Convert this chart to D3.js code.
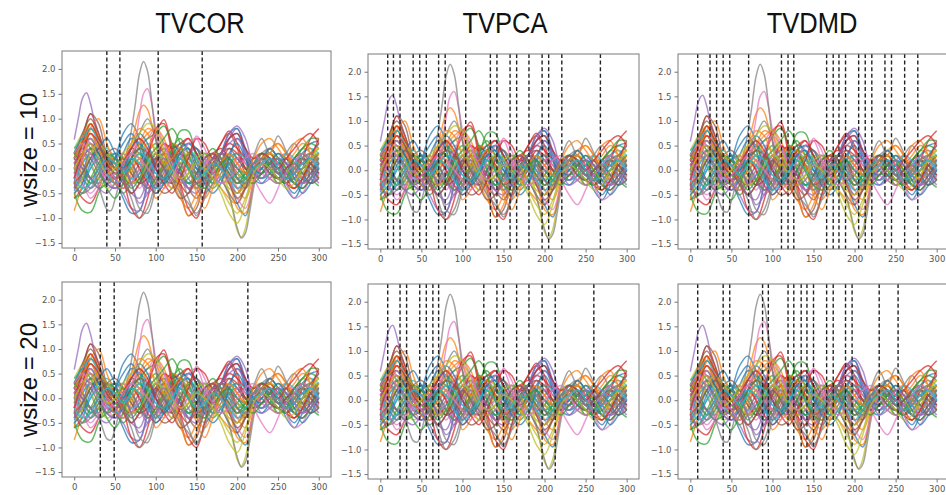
<!DOCTYPE html>
<html><head><meta charset="utf-8">
<script src="https://cdn.jsdelivr.net/npm/d3@7"></script>
<style>body{margin:0;background:#fff}svg{display:block}</style>
</head><body>
<svg id="chart" width="946" height="495"></svg>
<script>
// Sample times: a coarse grid for most regions, a fine grid for the sharper ones
const timePoints = [0,10,20,30,40,50,60,70,80,90,100,110,120,130,140,150,160,170,180,190,200,210,220,230,240,250,260,270,280,290,300];
const fineTimePoints = [0,5,10,15,20,25,30,35,40,45,50,55,60,65,70,75,80,85,90,95,100,105,110,115,120,125,130,135,140,145,
  150,155,160,165,170,175,180,185,190,195,200,205,210,215,220,225,230,235,240,245,250,255,260,265,270,275,280,285,290,295,300];

// Regional signals
const s00 = [-0.45,-0.1,0.3,0.2,-0.1,0.2,0.7,0.9,0.6,0.1,-0.3,0.1,0.45,0.35,0.1,-0.2,0.1,0.3,0.1,-0.2,-0.1,0.2,0.1,0.3,0.2,0.0,-0.2,0.1,0.3,0.5,0.55];
const s01 = [0.1,0.25,0.4,0.65,0.9,0.8,0.6,0.35,0.1,-0.15,
  -0.3,-0.25,-0.1,0.15,0.5,0.85,1.15,1.27,1.18,0.9,
  0.6,0.25,-0.1,-0.3,-0.4,-0.35,-0.2,0.05,0.3,0.42,
  0.4,0.25,0.1,-0.05,-0.2,-0.3,-0.4,-0.5,-0.6,-0.68,
  -0.7,-0.55,-0.3,-0.1,0.1,0.18,0.2,0.12,0.0,-0.1,
  -0.2,-0.18,-0.1,0.05,0.2,0.3,0.4,0.38,0.3,0.2,
  0.1];
const s02 = [-0.5,-0.85,-0.88,-0.5,-0.2,-0.3,-0.5,-0.3,0.0,0.3,0.5,0.3,-0.1,-0.3,-0.2,0.1,0.3,0.2,0.0,-0.3,-0.5,-0.2,0.1,0.2,0.0,-0.2,-0.3,-0.1,0.1,-0.2,-0.35];
const s03 = [-0.3,0.6,1.1,0.7,0.2,0.0,0.1,0.3,0.0,-0.4,-0.2,0.3,0.5,0.3,0.0,-0.3,-0.1,0.2,0.5,0.7,0.4,-0.1,-0.2,0.0,0.2,0.1,-0.1,-0.3,-0.4,-0.2,0.0];
const s04 = [0.58,1.0,1.4,1.52,1.3,0.9,0.45,0.1,-0.15,-0.25,
  -0.3,-0.28,-0.2,-0.1,0.0,0.1,0.2,0.18,0.1,-0.05,
  -0.2,-0.28,-0.3,-0.15,0.0,0.12,0.2,0.15,0.1,0.0,
  -0.1,-0.05,0.0,0.05,0.1,0.05,0.0,-0.05,-0.1,0.0,
  0.1,0.18,0.2,0.1,0.0,-0.05,-0.1,-0.05,0.0,0.05,
  0.1,0.15,0.2,0.1,0.0,-0.1,-0.2,-0.15,-0.1,0.0,
  0.1];
const s05 = [-0.2,0.5,1.1,0.9,0.3,0.1,0.2,0.0,-0.3,-0.2,0.2,0.5,0.2,-0.4,-0.95,-0.8,-0.2,0.2,0.3,0.1,-0.2,-0.3,-0.1,0.1,0.0,-0.2,-0.3,0.0,0.2,0.1,-0.1];
const s06 = [0.0,0.15,0.3,0.42,0.5,0.4,0.2,0.0,-0.2,-0.32,
  -0.4,-0.38,-0.3,-0.1,0.2,0.55,1.05,1.5,1.6,1.3,
  0.8,0.4,0.1,-0.1,-0.2,-0.1,0.0,0.1,0.2,0.15,
  0.1,0.0,-0.1,-0.2,-0.3,-0.3,-0.2,-0.05,0.1,0.18,
  0.2,0.12,0.0,-0.08,-0.1,-0.05,0.0,0.05,0.1,0.05,
  0.0,-0.1,-0.2,-0.15,-0.1,-0.05,0.0,0.05,0.1,0.05,
  0.0];
const s07 = [0.2,0.28,0.3,0.22,0.08,-0.1,-0.35,-0.62,-0.82,-0.85,
  -0.62,-0.3,0.05,0.35,0.75,1.3,1.9,2.15,1.95,1.35,
  0.6,0.0,-0.25,-0.3,-0.25,-0.15,-0.05,0.05,0.1,0.05,
  0.0,-0.05,-0.1,-0.05,0.0,0.05,0.1,0.15,0.2,0.1,
  0.0,-0.1,-0.2,-0.15,-0.1,0.0,0.1,0.2,0.15,0.05,
  0.0,-0.05,-0.1,0.0,0.1,0.2,0.2,0.15,0.1,0.05,
  0.0];
const s08 = [0.1,0.25,0.4,0.52,0.6,0.5,0.3,0.15,0.0,0.1,
  0.2,0.28,0.3,0.2,0.1,-0.05,-0.2,-0.2,-0.1,0.05,
  0.2,0.28,0.3,0.2,0.1,-0.05,-0.2,-0.32,-0.4,-0.38,
  -0.3,-0.15,0.0,0.1,0.2,0.15,0.0,-0.2,-0.5,-0.9,
  -1.25,-1.38,-1.2,-0.75,-0.25,0.05,0.2,0.3,0.3,0.2,
  0.1,0.0,-0.1,-0.05,0.0,0.1,0.2,0.28,0.3,0.25,
  0.2];
const s09 = [0.3,0.5,0.8,0.6,0.2,0.0,-0.1,0.2,0.4,0.2,-0.1,0.0,0.3,0.4,0.2,0.0,-0.1,0.1,0.2,0.0,-0.2,-0.1,0.1,0.2,0.1,-0.1,-0.2,0.0,0.3,0.4,0.3];
const s10 = [-0.6,-0.4,0.0,0.2,0.1,-0.2,-0.6,-0.9,-0.85,-0.3,0.2,0.4,0.2,-0.1,-0.3,-0.2,0.1,0.3,0.2,-0.2,-0.7,-0.95,-0.3,0.2,0.4,0.2,-0.3,-0.5,-0.2,0.2,0.3];
const s11 = [-0.85,-0.3,0.4,0.5,0.2,0.0,0.1,0.4,0.6,0.3,-0.6,-0.4,0.1,0.4,0.3,-0.2,-0.4,-0.1,0.2,0.1,-0.4,-0.6,-0.2,0.2,0.3,0.0,-0.3,-0.4,-0.1,0.1,-0.2];
const s12 = [0.2,0.0,-0.3,-0.2,0.1,0.3,0.2,-0.1,-0.3,0.0,0.3,0.1,0.3,0.75,0.75,0.2,-0.2,-0.4,-0.2,0.1,0.2,0.0,-0.2,-0.1,0.1,0.3,0.2,0.0,-0.1,0.1,0.3];
const s13 = [-0.4,0.2,0.8,0.6,0.2,0.0,-0.2,-0.3,-0.1,0.3,0.7,0.98,0.4,-0.3,-0.5,-0.2,0.1,0.3,0.4,0.2,-0.1,-0.2,0.0,0.3,0.2,-0.1,-0.2,0.0,0.2,0.1,-0.1];
const s14 = [-0.2,0.1,0.3,0.1,-0.2,-0.3,-0.5,-0.8,-0.85,-0.3,0.3,0.2,0.0,-0.1,0.0,0.1,0.0,-0.2,0.1,0.6,0.8,0.4,-0.1,-0.2,0.0,0.1,0.2,0.0,-0.2,-0.3,-0.1];
const s15 = [0.1,0.3,0.2,-0.1,-0.3,-0.2,0.1,0.4,0.3,0.0,-0.3,-0.5,-0.4,0.0,0.3,0.4,0.2,0.0,-0.2,-0.5,-0.7,-0.4,0.0,0.1,-0.1,-0.2,0.0,0.2,0.1,0.0,0.1];
const s16 = [0.0,-0.3,-0.5,-0.3,0.0,0.2,0.3,0.1,-0.2,-0.4,-0.3,0.0,0.2,0.1,0.2,0.65,0.4,-0.1,-0.3,-0.2,0.1,0.2,0.0,-0.1,0.0,0.2,0.3,0.1,-0.2,-0.3,-0.1];
const s17 = [0.3,0.1,-0.2,-0.3,0.0,0.2,0.1,0.2,0.7,1.0,0.6,0.0,-0.3,-0.2,-0.6,-0.95,-0.5,0.0,0.2,0.1,-0.1,-0.2,0.0,0.3,0.4,0.2,-0.1,-0.2,0.0,0.2,0.1];
const s18 = [-0.3,-0.1,0.2,0.3,0.1,-0.1,-0.2,0.0,0.2,0.4,0.2,-0.2,-0.4,-0.2,0.1,0.3,0.2,0.0,-0.2,-0.3,-0.2,0.0,0.2,0.1,-0.1,-0.3,-0.2,0.1,0.3,0.2,0.0];
const s19 = [0.1,-0.2,-0.4,-0.2,0.1,0.3,0.2,0.0,-0.2,-0.1,0.2,0.4,0.3,0.0,-0.3,-0.4,-0.1,0.2,0.3,0.2,0.0,-0.1,0.1,0.2,0.0,-0.2,-0.1,0.1,0.2,0.0,-0.2];
const s20 = [0.2,0.4,0.3,0.0,-0.3,-0.4,-0.2,0.2,0.5,0.3,0.0,-0.2,-0.1,0.2,0.5,0.4,0.1,0.0,0.3,0.7,0.8,0.3,-0.2,-0.3,-0.1,0.1,0.2,-0.1,-0.3,-0.1,0.2];
const s21 = [0.3,0.6,0.9,0.5,0.0,-0.2,0.0,0.3,0.5,0.7,0.8,0.6,0.1,-0.5,-0.95,-0.7,-0.1,0.2,0.0,-0.3,-0.5,-0.2,0.1,0.3,0.2,0.0,0.1,0.3,0.5,0.4,0.2];
const s22 = [0.2,0.5,0.7,0.4,0.1,-0.1,-0.2,0.1,0.3,0.1,-0.2,0.0,0.4,0.6,0.3,-0.1,-0.2,0.0,0.1,-0.1,-0.3,-0.1,0.1,0.0,-0.2,-0.3,-0.1,0.2,0.4,0.5,0.4];
const s23 = [-0.3,-0.6,-0.7,-0.4,0.0,0.2,-0.2,-0.8,-1.0,-0.6,0.1,0.5,0.4,0.5,0.6,0.3,0.0,0.2,0.5,0.75,0.5,0.0,-0.1,0.1,0.2,0.0,-0.3,-0.4,-0.2,0.1,0.2];
const s24 = [0.3,0.6,0.5,0.2,-0.1,-0.2,0.0,0.3,0.2,-0.1,-0.3,-0.1,0.2,0.3,0.1,-0.1,-0.3,-0.2,0.0,-0.2,-0.5,-0.3,0.0,0.1,0.0,-0.1,0.0,0.2,0.1,-0.1,0.0];
const s25 = [-0.1,0.2,0.4,0.3,0.0,-0.2,-0.4,-0.2,0.1,0.3,0.1,-0.2,-0.3,0.0,0.3,0.2,-0.1,-0.3,-0.1,0.2,0.3,0.1,-0.1,-0.2,-0.1,0.1,0.0,-0.2,-0.3,-0.1,0.1];
const s26 = [-0.1,-0.3,-0.6,-0.4,0.0,0.1,0.0,-0.2,-0.4,-0.1,0.3,0.2,-0.1,-0.2,0.0,0.2,0.1,-0.1,-0.2,0.0,0.2,0.1,-0.2,-0.5,-0.7,-0.4,0.0,0.2,0.1,-0.1,-0.2];
const s27 = [0.0,-0.1,-0.2,-0.3,-0.4,-0.35,-0.2,-0.05,0.1,0.18,
  0.2,0.12,0.0,-0.15,-0.3,-0.28,-0.2,-0.05,0.1,0.2,
  0.3,0.25,0.1,-0.05,-0.2,-0.28,-0.3,-0.2,-0.1,0.05,
  0.2,0.28,0.3,0.2,0.1,-0.05,-0.2,-0.35,-0.55,-0.85,
  -1.2,-1.4,-1.3,-0.9,-0.4,-0.05,0.1,0.2,0.2,0.1,
  0.0,-0.1,-0.2,-0.15,-0.1,0.0,0.1,0.18,0.2,0.1,
  0.0];
const s28 = [0.0,0.2,0.1,-0.2,-0.4,-0.3,0.0,0.3,0.2,-0.1,-0.3,-0.2,0.1,0.2,0.0,-0.2,-0.1,0.1,0.2,0.1,-0.1,-0.2,0.0,0.2,0.3,0.2,0.0,-0.2,-0.3,-0.2,0.0];
const s29 = [-0.2,0.1,0.3,0.2,-0.1,-0.3,-0.2,0.1,0.3,0.2,0.0,-0.2,-0.1,0.1,0.2,0.0,-0.2,-0.1,0.1,0.3,0.2,0.0,-0.1,0.0,0.1,0.2,0.1,-0.1,-0.2,0.0,0.2];
const s30 = [-0.4,-0.2,0.2,0.4,0.3,0.0,0.3,0.6,0.5,0.0,-0.4,-0.2,0.2,0.4,0.5,0.3,0.0,-0.2,0.0,0.3,0.5,0.2,-0.1,0.0,0.2,0.0,-0.4,-0.6,-0.3,0.1,0.3];
const s31 = [-0.1,0.3,0.6,0.4,0.0,-0.3,-0.4,-0.1,0.2,0.0,-0.2,0.1,0.5,0.4,0.0,-0.4,-0.6,-0.3,0.1,0.3,0.1,-0.1,0.0,0.2,0.4,0.5,0.3,0.0,-0.1,0.2,0.5];
const s32 = [0.3,0.1,-0.2,-0.4,-0.3,0.0,0.2,0.1,-0.2,-0.4,-0.2,0.1,0.3,0.2,0.0,-0.1,0.0,0.2,0.1,-0.1,-0.3,-0.2,0.0,0.1,0.0,-0.2,-0.3,-0.2,0.0,0.2,0.3];
const s33 = [0.1,0.3,0.5,0.3,0.0,-0.2,-0.1,0.2,0.0,-0.3,-0.5,-0.3,0.1,0.4,0.6,0.3,0.0,-0.1,0.1,0.4,0.3,0.0,-0.2,-0.1,0.1,0.0,-0.2,-0.1,0.2,0.6,0.8];
const s34 = [-0.3,-0.5,-0.3,0.0,0.2,0.1,-0.2,-0.5,-0.6,-0.2,0.2,0.4,0.2,-0.1,-0.3,-0.1,0.2,0.3,0.1,-0.1,-0.4,-0.3,0.0,0.2,0.1,-0.1,-0.2,0.0,0.1,-0.1,-0.3];
const s35 = [0.2,0.0,-0.2,0.0,0.3,0.4,0.2,-0.1,-0.3,-0.2,0.1,0.3,0.2,-0.1,-0.4,-0.6,-0.3,0.1,0.3,0.4,0.2,0.0,0.1,0.3,0.2,0.0,-0.1,0.1,0.2,0.0,-0.2];
const s36 = [0.1,0.4,0.7,0.5,0.1,-0.1,0.0,0.3,0.5,0.6,0.8,0.5,0.0,-0.3,-0.2,0.1,0.2,0.0,-0.2,-0.1,0.2,0.3,0.1,-0.1,-0.2,0.0,0.1,-0.1,-0.3,-0.2,0.0];
const s37 = [-0.1,0.2,0.4,0.2,-0.1,-0.2,0.0,0.2,0.1,-0.2,-0.4,-0.2,0.1,0.3,0.1,-0.3,-0.5,-0.3,0.0,0.1,0.0,-0.1,0.25,0.6,0.3,0.65,0.35,0.0,0.0,0.1,0.2];
const s38 = [0.4,0.7,0.9,0.6,0.2,0.0,-0.1,0.1,0.3,0.5,0.4,0.1,-0.1,0.1,0.3,0.2,0.0,-0.2,-0.4,-0.7,-0.9,-0.6,-0.1,0.1,0.2,0.0,-0.2,0.0,0.2,0.3,0.4];
const s39 = [0.0,-0.2,0.0,0.3,0.4,0.2,0.0,-0.2,-0.1,0.1,0.3,0.2,0.0,-0.2,-0.3,-0.1,0.1,0.2,0.1,0.0,-0.2,-0.1,0.1,0.3,0.2,-0.1,-0.2,0.1,0.3,0.2,0.0];
const s40 = [0.3,0.5,0.6,0.3,0.0,0.2,0.5,0.7,0.4,-0.1,-0.5,-0.3,0.2,0.5,0.4,0.0,-0.2,0.0,0.3,0.6,0.7,0.2,-0.2,0.1,0.4,0.2,-0.1,-0.3,0.0,0.3,0.5];
const s41 = [-0.6,0.1,0.8,1.0,0.5,0.1,-0.2,0.0,0.5,0.8,0.7,0.3,-0.2,-0.6,-0.8,-0.5,0.0,0.3,0.2,-0.2,-0.8,-0.9,-0.3,0.1,0.3,0.5,0.3,0.0,-0.2,0.0,0.3];
const s42 = [0.3,0.6,0.4,0.0,-0.4,-0.6,-0.3,0.2,0.4,0.6,0.7,0.85,0.5,0.0,-0.3,-0.2,0.2,0.4,0.2,-0.1,-0.3,-0.1,0.2,0.3,0.0,-0.3,-0.2,0.2,0.4,0.6,0.6];
const s43 = [0.0,0.5,0.9,0.6,0.3,0.1,-0.2,-0.5,-0.3,0.2,0.8,0.9,0.3,-0.3,-0.8,-1.0,-0.5,0.1,0.3,0.5,0.4,0.2,0.0,0.2,0.3,0.1,-0.2,-0.4,-0.2,0.2,0.6];
const s44 = [-0.4,-0.1,0.3,0.1,-0.3,-0.4,-0.2,0.1,-0.2,-0.5,-0.3,0.0,0.1,-0.1,-0.4,-0.5,-0.2,0.1,0.3,0.7,0.85,0.6,0.0,-0.3,-0.2,0.0,-0.1,-0.3,-0.4,-0.2,0.0];
const s45 = [0.2,0.7,1.0,0.7,0.2,-0.1,0.0,0.2,0.4,0.3,0.0,-0.2,0.0,0.3,0.1,-0.3,-0.2,0.1,0.3,0.2,-0.2,-0.4,-0.1,0.2,0.1,-0.1,0.0,0.2,0.3,0.1,-0.1];
const s46 = [-0.2,0.2,0.6,0.4,0.0,-0.2,-0.4,-0.3,0.0,0.4,0.7,0.5,0.1,-0.2,-0.4,-0.2,0.1,0.2,0.0,-0.3,-0.6,-0.8,-0.3,0.1,0.2,0.1,-0.3,-0.6,-0.5,-0.2,0.0];
const s47 = [0.1,-0.1,-0.3,-0.1,0.2,0.3,0.1,-0.3,-0.8,-0.9,-0.4,0.0,0.2,0.1,-0.2,-0.4,-0.2,0.1,0.2,0.0,-0.3,-0.2,0.1,0.3,0.2,0.0,0.3,0.5,0.2,-0.1,0.0];
const s48 = [-0.5,-0.2,0.3,0.5,0.3,0.1,-0.1,-0.3,-0.2,0.1,0.3,0.2,-0.1,-0.3,-0.1,0.2,0.3,0.1,-0.2,-0.4,-0.5,-0.3,0.0,0.2,0.3,0.2,0.0,-0.2,-0.1,0.2,0.4];
const s49 = [0.4,0.6,0.8,0.5,0.1,-0.1,0.0,0.2,0.1,-0.2,-0.4,-0.3,0.0,0.3,0.4,0.2,-0.1,-0.3,-0.2,0.1,0.3,0.2,0.0,-0.2,-0.1,0.1,0.3,0.2,-0.1,-0.3,-0.2];
const s50 = [-0.5,-0.3,0.1,0.4,0.6,0.3,0.0,0.4,0.7,0.5,0.0,-0.3,-0.1,0.3,0.4,0.1,-0.3,-0.5,-0.3,0.2,0.6,0.4,0.0,-0.1,0.1,0.3,0.1,-0.2,-0.5,-0.3,0.0];
const s51 = [0.2,0.5,0.7,0.4,0.1,0.0,0.2,0.5,0.8,0.7,0.3,0.1,0.2,0.4,0.1,-0.5,-0.8,-0.4,0.1,0.3,0.1,-0.1,0.2,0.5,0.6,0.4,0.2,0.5,0.6,0.3,0.1];
const s52 = [-0.6,-0.5,-0.2,0.1,0.3,0.2,-0.1,-0.4,-0.2,0.2,0.4,0.6,0.8,0.5,0.0,-0.3,-0.4,-0.2,0.1,0.2,0.0,-0.2,-0.3,-0.1,0.1,0.2,0.0,-0.3,-0.4,-0.2,0.1];
const s53 = [-0.2,0.3,0.7,0.5,0.1,-0.1,0.1,0.4,0.6,0.4,0.0,-0.3,-0.5,-0.2,0.2,0.6,0.5,0.2,0.3,0.6,0.7,0.4,0.2,0.3,0.2,0.0,0.2,0.4,0.6,0.7,0.5];
const s54 = [0.2,0.0,-0.2,-0.4,-0.5,-0.3,0.0,-0.3,-0.7,-0.5,0.0,0.2,0.0,-0.2,-0.4,-0.3,0.0,0.2,0.3,0.5,0.6,0.3,-0.1,-0.2,0.0,0.2,0.1,-0.1,-0.3,-0.2,0.1];
const s55 = [-0.3,-0.1,0.2,0.4,0.2,0.0,-0.3,-0.5,-0.3,0.0,0.2,0.0,-0.3,-0.6,-0.5,-0.1,0.2,0.3,0.1,-0.3,-0.6,-0.4,0.0,0.1,-0.1,-0.2,0.0,0.1,-0.1,-0.3,-0.2];
const s56 = [0.3,0.5,0.3,0.0,-0.2,-0.1,0.1,0.3,0.2,0.0,-0.2,-0.4,-0.2,0.2,0.5,0.6,0.2,-0.1,-0.3,-0.2,0.0,0.2,0.3,0.1,-0.2,-0.3,-0.1,0.1,0.3,0.2,0.0];
const s57 = [-0.3,-0.5,-0.4,-0.1,0.2,0.1,-0.2,-0.6,-1.0,-0.8,-0.3,0.0,-0.2,-0.5,-0.7,-0.9,-0.6,0.0,0.3,0.1,-0.2,-0.3,-0.1,0.2,0.1,-0.1,-0.2,0.0,0.2,0.3,0.1];
const s58 = [0.0,0.3,0.5,0.2,-0.1,0.0,0.3,0.5,0.7,0.9,0.8,0.4,0.0,-0.2,-0.1,0.1,0.0,-0.2,-0.5,-0.9,-1.1,-0.7,-0.1,0.1,0.0,-0.2,-0.4,-0.3,0.0,0.2,0.3];
const s59 = [-0.2,-0.4,-0.3,0.0,0.2,0.1,-0.1,0.1,0.3,0.2,-0.1,-0.2,0.0,0.2,0.0,-0.2,-0.1,0.1,0.0,-0.2,-0.4,-0.2,0.0,0.1,0.2,0.0,-0.2,-0.1,0.1,0.2,0.0];

const signals = [s00,s01,s02,s03,s04,s05,s06,s07,s08,s09,s10,s11,s12,s13,s14,s15,s16,s17,s18,s19,
                 s20,s21,s22,s23,s24,s25,s26,s27,s28,s29,s30,s31,s32,s33,s34,s35,s36,s37,s38,s39,
                 s40,s41,s42,s43,s44,s45,s46,s47,s48,s49,s50,s51,s52,s53,s54,s55,s56,s57,s58,s59];

// Method names (columns) and window sizes (rows)
const methods = ["TVCOR", "TVPCA", "TVDMD"];
const windowLabels = ["wsize = 10", "wsize = 20"];

// Detected change points for each method / window size
const cpTVCOR10 = [40, 56, 103, 157];
const cpTVPCA10 = [9, 16, 24, 40, 48, 56, 71, 79, 104, 134, 142, 158, 166, 181, 197, 205, 221, 268];
const cpTVDMD10 = [9, 24, 32, 40, 48, 71, 111, 119, 126, 166, 174, 181, 189, 205, 213, 221, 237, 245, 261, 277];
const cpTVCOR20 = [32, 49, 150, 213];
const cpTVPCA20 = [9, 24, 32, 48, 56, 64, 71, 126, 142, 150, 166, 181, 197, 213, 260];
const cpTVDMD20 = [9, 40, 48, 88, 95, 119, 126, 135, 142, 150, 166, 174, 189, 197, 230, 253];
const changePointSets = [cpTVCOR10, cpTVPCA10, cpTVDMD10, cpTVCOR20, cpTVPCA20, cpTVDMD20];

// Axis ticks
const xTicks = [0, 50, 100, 150, 200, 250, 300];
const yTicks = [-1.5, -1.0, -0.5, 0.0, 0.5, 1.0, 1.5, 2.0];

const svg = d3.select("#chart");
const palette = d3.schemeCategory10;

// Panel frames (left, top, width, height)
const frames = [
  {x: 62,  y: 51,  w: 269, h: 197},
  {x: 368, y: 54,  w: 271, h: 195},
  {x: 678, y: 54,  w: 271, h: 195},
  {x: 62,  y: 282, w: 269, h: 195},
  {x: 368, y: 284, w: 271, h: 195},
  {x: 678, y: 284, w: 271, h: 195}
];

frames.forEach((f, i) => {
  const x = d3.scaleLinear().domain([-15, 315]).range([0, f.w]);
  const y = d3.scaleLinear().domain([-1.6, 2.36]).range([f.h, 0]);
  const g = svg.append("g").attr("transform", `translate(${f.x},${f.y})`);

  g.append("clipPath").attr("id", "clip" + i)
    .append("rect").attr("width", f.w).attr("height", f.h);

  const plot = g.append("g").attr("clip-path", `url(#clip${i})`);
  const line = d3.line()
    .x((d, k, arr) => x((arr.length === fineTimePoints.length ? fineTimePoints : timePoints)[k]))
    .y(d => y(d))
    .curve(d3.curveCatmullRom.alpha(0.5));

  plot.selectAll("path.sig").data(signals).join("path")
    .attr("class", "sig")
    .attr("d", line)
    .attr("fill", "none")
    .attr("stroke", (d, k) => palette[k % 10])
    .attr("stroke-width", 1.5)
    .attr("stroke-opacity", 0.72);

  plot.selectAll("line.cp").data(changePointSets[i]).join("line")
    .attr("class", "cp")
    .attr("x1", d => x(d)).attr("x2", d => x(d))
    .attr("y1", 0).attr("y2", f.h)
    .attr("stroke", "#222")
    .attr("stroke-width", 1.4)
    .attr("stroke-dasharray", "4,2.6");

  const fmt = d3.format(".1f");
  const yAxis = g.append("g").call(d3.axisLeft(y).tickValues(yTicks).tickFormat(fmt).tickSize(3.5).tickPadding(3));
  const xAxis = g.append("g").attr("transform", `translate(0,${f.h})`)
    .call(d3.axisBottom(x).tickValues(xTicks).tickSize(3.5).tickPadding(3));
  [yAxis, xAxis].forEach(a => {
    a.select(".domain").remove();
    a.selectAll(".tick line").attr("stroke", "#777");
    a.selectAll("text").attr("fill", "#555").style("font-family", "DejaVu Sans").style("font-size", "8.5px");
  });

  g.append("rect").attr("width", f.w).attr("height", f.h)
    .attr("fill", "none").attr("stroke", "#7a7a7a").attr("stroke-width", 1);
});

// Column titles
const titleX = [200, 505, 812];
svg.selectAll("text.title").data(methods).join("text")
  .attr("class", "title")
  .attr("transform", (d, i) => `translate(${titleX[i]},33) scale(0.88,1)`)
  .attr("text-anchor", "middle")
  .style("font-family", "Liberation Sans, Arial, sans-serif")
  .style("font-size", "29px")
  .attr("fill", "#111")
  .text(d => d);

// Row labels
const rowY = [150, 380];
svg.selectAll("text.row").data(windowLabels).join("text")
  .attr("class", "row")
  .attr("transform", (d, i) => `translate(37,${rowY[i]}) rotate(-90)`)
  .attr("text-anchor", "middle")
  .style("font-family", "Liberation Sans, Arial, sans-serif")
  .style("font-size", "24px")
  .attr("fill", "#111")
  .text(d => d);
</script>
</body></html>
